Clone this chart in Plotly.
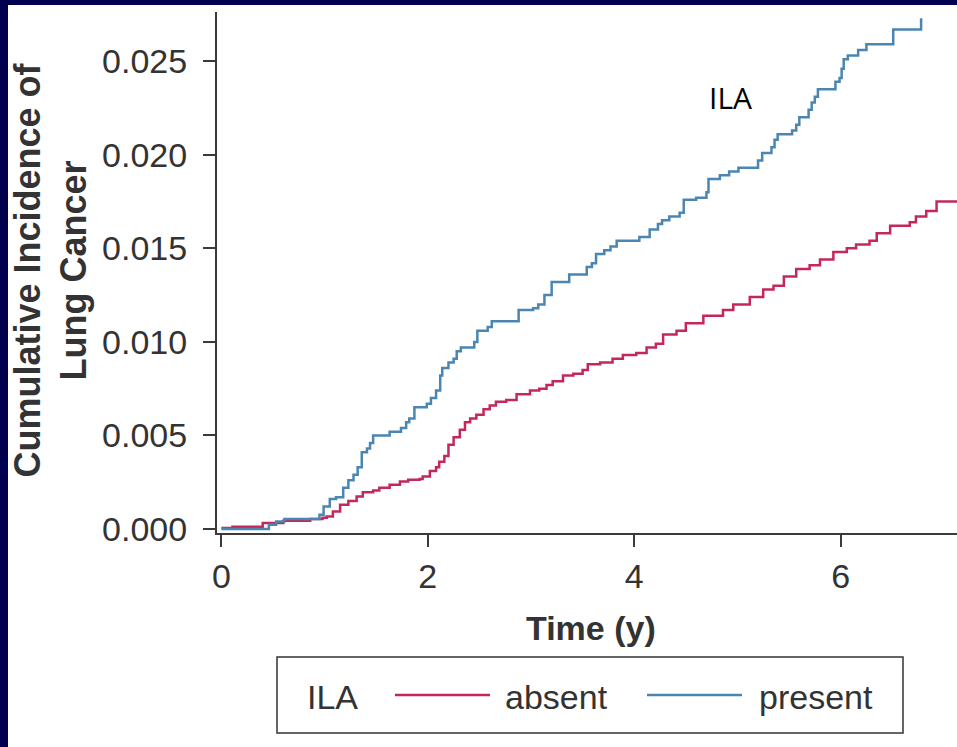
import plotly.graph_objects as go

# ---- data ----
absent_t = [0, 0.107, 0.40, 0.60, 0.86, 0.98, 1.02, 1.08, 1.15, 1.23, 1.31, 1.37, 1.47, 1.53,
            1.63, 1.73, 1.81, 1.92, 1.95, 2.02, 2.08, 2.11, 2.16, 2.20, 2.25, 2.31, 2.36, 2.41,
            2.47, 2.54, 2.60, 2.66, 2.76, 2.86, 2.99, 3.08, 3.15, 3.21, 3.31, 3.41, 3.50, 3.55,
            3.67, 3.79, 3.89, 4.02, 4.12, 4.21, 4.28, 4.41, 4.50, 4.67, 4.86, 4.96, 5.12, 5.25,
            5.35, 5.45, 5.57, 5.70, 5.80, 5.93, 6.06, 6.15, 6.28, 6.35, 6.48, 6.67, 6.73, 6.83,
            6.93, 7.20]
absent_v = [0.00005, 0.00012, 0.00032, 0.00044, 0.00053, 0.00060, 0.00067, 0.00094, 0.0013,
            0.0015, 0.00174, 0.00196, 0.00206, 0.0022, 0.00237, 0.00254, 0.00263, 0.00267,
            0.0028, 0.0031, 0.0033, 0.0036, 0.0039, 0.0045, 0.0049, 0.0053, 0.0057, 0.0059,
            0.0061, 0.0064, 0.0066, 0.0068, 0.0069, 0.0072, 0.0074, 0.0075, 0.0077, 0.0079,
            0.0082, 0.0083, 0.0085, 0.0088, 0.0089, 0.0091, 0.0093, 0.0094, 0.0097, 0.0099,
            0.0104, 0.0106, 0.0110, 0.0114, 0.0117, 0.0120, 0.0124, 0.0128, 0.0130, 0.0135,
            0.0139, 0.0141, 0.0144, 0.0148, 0.0150, 0.0152, 0.0154, 0.0158, 0.0162, 0.0164,
            0.0167, 0.0170, 0.0175, 0.0175]

present_t = [0, 0.46, 0.53, 0.61, 0.95, 0.99, 1.05, 1.11, 1.18, 1.23, 1.28, 1.32, 1.36, 1.41,
             1.44, 1.47, 1.63, 1.74, 1.79, 1.82, 1.87, 1.99, 2.03, 2.08, 2.12, 2.14, 2.20, 2.25,
             2.28, 2.32, 2.45, 2.48, 2.58, 2.62, 2.88, 3.02, 3.07, 3.13, 3.20, 3.37, 3.54, 3.59,
             3.63, 3.71, 3.77, 3.83, 4.05, 4.15, 4.23, 4.27, 4.34, 4.44, 4.48, 4.60, 4.70, 4.72,
             4.83, 4.92, 5.01, 5.20, 5.24, 5.33, 5.36, 5.39, 5.53, 5.57, 5.60, 5.69, 5.72, 5.75,
             5.78, 5.95, 5.99, 6.01, 6.03, 6.07, 6.17, 6.25, 6.51, 6.78]
present_v = [0, 0.00023, 0.0004, 0.00053, 0.00076, 0.0012, 0.0016, 0.0017, 0.0022, 0.0026,
             0.0029, 0.0033, 0.0041, 0.0043, 0.0046, 0.0050, 0.0052, 0.0054, 0.0057, 0.0059,
             0.0065, 0.0067, 0.0070, 0.0074, 0.0082, 0.0086, 0.0089, 0.0091, 0.0095, 0.0097,
             0.0100, 0.0106, 0.0108, 0.0111, 0.0117, 0.0118, 0.0120, 0.0125, 0.0132, 0.0136,
             0.0140, 0.0142, 0.0147, 0.0149, 0.0151, 0.0154, 0.0156, 0.0160, 0.0163, 0.0165,
             0.0167, 0.0169, 0.0176, 0.0177, 0.0180, 0.0187, 0.0189, 0.0191, 0.0193, 0.0197,
             0.0201, 0.0204, 0.0208, 0.0211, 0.0213, 0.0216, 0.0220, 0.0224, 0.0228, 0.0231,
             0.0235, 0.0239, 0.0241, 0.0246, 0.0251, 0.0253, 0.0256, 0.0259, 0.0267, 0.0273]

x_ticks = [0, 2, 4, 6]
y_ticks = [0.000, 0.005, 0.010, 0.015, 0.020, 0.025]
series_names = ["absent", "present"]
legend_title = "ILA"

RED = "#C4285A"
BLUE = "#4A86B1"
NAVY = "#00004E"
AX = "#3a3a3a"
FONT = "Liberation Sans, Arial, Helvetica, sans-serif"

W, H = 957, 747
L, R, T, B = 217, 0, 12, 214
PW, PH = W - L - R, H - T - B


def px_x(p):
    return (p - L) / PW


def px_y(p):
    return (H - B - p) / PH


fig = go.Figure()
fig.add_trace(go.Scatter(x=absent_t, y=absent_v, mode="lines", line=dict(color=RED, width=2.5, shape="hv"),
                         name=series_names[0], showlegend=False))
fig.add_trace(go.Scatter(x=present_t, y=present_v, mode="lines", line=dict(color=BLUE, width=2.5, shape="hv"),
                         name=series_names[1], showlegend=False))

axis_common = dict(showline=True, linecolor=AX, linewidth=2, ticks="outside", ticklen=12, tickwidth=2,
                   tickcolor=AX, showgrid=False, zeroline=False,
                   tickfont=dict(family=FONT, size=34, color="#333333"))

fig.update_xaxes(range=[-0.043, 7.128], tickvals=x_ticks, ticktext=[str(v) for v in x_ticks], **axis_common)
fig.update_yaxes(range=[-0.000214, 0.02763], tickvals=y_ticks, ticktext=[f"{v:.3f}" for v in y_ticks],
                 ticklabelstandoff=9, **axis_common)

shapes = [
    # navy frame (left and top)
    dict(type="rect", xref="paper", yref="paper", x0=px_x(0), x1=px_x(8), y0=px_y(H), y1=px_y(0),
         fillcolor=NAVY, line=dict(width=0), layer="above"),
    dict(type="rect", xref="paper", yref="paper", x0=px_x(0), x1=px_x(W), y0=px_y(5), y1=px_y(0),
         fillcolor=NAVY, line=dict(width=0), layer="above"),
    # legend box
    dict(type="rect", xref="paper", yref="paper", x0=px_x(277), x1=px_x(903), y0=px_y(733), y1=px_y(657),
         fillcolor="rgba(0,0,0,0)", line=dict(color="#333333", width=1.5)),
    dict(type="line", xref="paper", yref="paper", x0=px_x(395), x1=px_x(490), y0=px_y(695), y1=px_y(695),
         line=dict(color=RED, width=2.5)),
    dict(type="line", xref="paper", yref="paper", x0=px_x(647), x1=px_x(742), y0=px_y(695), y1=px_y(695),
         line=dict(color=BLUE, width=2.5)),
]

annotations = [
    dict(text="<b>Cumulative Incidence of<br>Lung Cancer</b>", xref="paper", yref="paper",
         x=px_x(50.5), y=px_y(270), xanchor="center", yanchor="middle", textangle=-90, showarrow=False,
         font=dict(family=FONT, size=36, color="#333333"), align="center"),
    dict(text="<b>Time (y)</b>", xref="paper", yref="paper", x=px_x(591), y=px_y(628),
         xanchor="center", yanchor="middle", showarrow=False, font=dict(family=FONT, size=34, color="#333333")),
    dict(text="ILA", xref="x", yref="y", x=4.93, y=0.02304, xanchor="center", yanchor="middle",
         showarrow=False, font=dict(family="Open Sans, Noto Sans, sans-serif", size=30, color="#000000")),
    dict(text=legend_title, xref="paper", yref="paper", x=px_x(305), y=px_y(697), xanchor="left",
         yanchor="middle", showarrow=False, font=dict(family=FONT, size=34, color="#333333")),
    dict(text=series_names[0], xref="paper", yref="paper", x=px_x(503), y=px_y(697), xanchor="left",
         yanchor="middle", showarrow=False, font=dict(family=FONT, size=34, color="#333333")),
    dict(text=series_names[1], xref="paper", yref="paper", x=px_x(757), y=px_y(697), xanchor="left",
         yanchor="middle", showarrow=False, font=dict(family=FONT, size=34, color="#333333")),
]

fig.update_layout(width=W, height=H, margin=dict(l=L, r=R, t=T, b=B, pad=0),
                  paper_bgcolor="white", plot_bgcolor="white", showlegend=False,
                  shapes=shapes, annotations=annotations)

fig.write_html("out.html", config={"displayModeBar": False},
               post_script="document.body.style.margin='0';document.body.style.padding='0';"
                           "document.body.style.overflow='hidden';"
                           "document.documentElement.style.overflow='hidden';")
